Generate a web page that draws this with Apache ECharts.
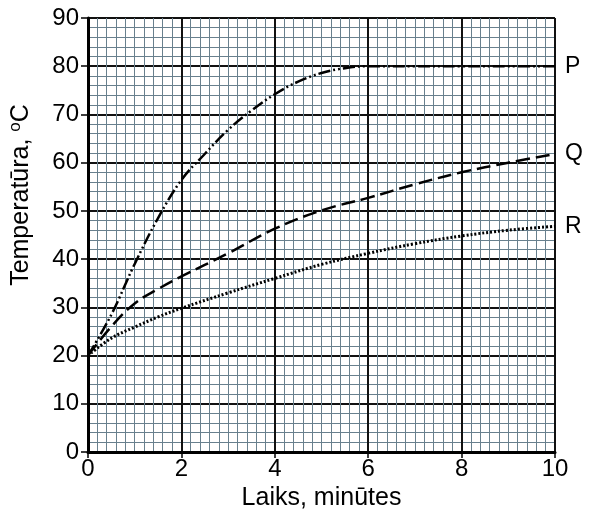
<!DOCTYPE html>
<html><head><meta charset="utf-8">
<script src="https://cdn.jsdelivr.net/npm/echarts@6/dist/echarts.min.js"></script>
<style>html,body{margin:0;padding:0;background:#fff}#c{width:590px;height:510px}</style>
</head><body><div id="c"></div>
<script>
const xP = [0, 0.5, 1, 1.5, 2, 2.5, 3, 3.5, 4, 4.5, 5, 5.5, 6, 7, 8, 9, 10];
const yP = [20, 28.5, 39, 48.5, 56.4, 61.8, 66.8, 70.8, 74.2, 76.8, 78.6, 79.6, 80, 80, 80, 80, 80];
const xQ = [0, 0.5, 1, 1.5, 2, 3, 4, 5, 6, 7, 8, 9, 10];
const yQ = [20, 26, 30.8, 33.8, 36.4, 41.2, 46.3, 50.1, 52.7, 55.5, 58, 60, 61.8];
const xR = [0, 0.5, 1, 1.5, 2, 3, 4, 5, 6, 7, 8, 9, 10];
const yR = [20, 23.6, 25.9, 28, 29.8, 33, 36, 38.9, 41.2, 43.2, 44.8, 46, 46.8];
const seriesNames = ['P', 'Q', 'R'];
const xTicks = [0, 2, 4, 6, 8, 10];
const yTicks = [0, 10, 20, 30, 40, 50, 60, 70, 80, 90];

const zip = (xs, ys) => xs.map((x, i) => [x, ys[i]]);
const font = 'Liberation Sans, Arial, sans-serif';
const chart = echarts.init(document.getElementById('c'), null, {renderer: 'canvas'});
const lbl = {show: true, fontFamily: font, fontSize: 23, color: '#000', distance: 10};
chart.setOption({
  animation: false,
  backgroundColor: '#fff',
  grid: {left: 88, right: 35, top: 18, bottom: 58, containLabel: false, outerBoundsMode: 'none'},
  xAxis: {
    type: 'value', min: xTicks[0], max: xTicks[xTicks.length - 1], interval: 2,
    name: 'Laiks, minūtes', nameLocation: 'middle', nameGap: 29,
    nameTextStyle: {fontFamily: font, fontSize: 25, color: '#000'},
    axisLine: {show: true, onZero: false, lineStyle: {color: '#000', width: 3}},
    axisTick: {show: true, length: 6, lineStyle: {color: '#000', width: 1.5}},
    axisLabel: {fontFamily: font, fontSize: 24, color: '#000', margin: 5},
    splitLine: {show: true, lineStyle: {color: '#111', width: 2}},
    minorTick: {show: false, splitNumber: 10},
    minorSplitLine: {show: true, lineStyle: {color: '#68808e', width: 1}}
  },
  yAxis: {
    type: 'value', min: yTicks[0], max: yTicks[yTicks.length - 1], interval: 10,
    name: 'Temperatūra, {sup|o}C', nameLocation: 'middle', nameGap: 52, nameRotate: 90,
    nameTextStyle: {fontFamily: font, fontSize: 25, color: '#000', padding: [0, 0, 0, 80],
      rich: {sup: {fontFamily: font, fontSize: 17, color: '#000', padding: [0, 0, 12, 0]}}},
    axisLine: {show: true, onZero: false, lineStyle: {color: '#000', width: 3}},
    axisTick: {show: true, length: 7, lineStyle: {color: '#000', width: 1.5}},
    axisLabel: {fontFamily: font, fontSize: 24, color: '#000', margin: 9},
    splitLine: {show: true, lineStyle: {color: '#111', width: 2}},
    minorTick: {show: false, splitNumber: 5},
    minorSplitLine: {show: true, lineStyle: {color: '#68808e', width: 1}}
  },
  series: [
    {name: seriesNames[0], type: 'line', smooth: 0.4, symbol: 'none', data: zip(xP, yP),
     lineStyle: {color: '#000', width: 2.5, type: [12, 3, 2, 3, 2, 3]},
     endLabel: Object.assign({formatter: seriesNames[0]}, lbl)},
    {name: seriesNames[1], type: 'line', smooth: 0.4, symbol: 'none', data: zip(xQ, yQ),
     lineStyle: {color: '#000', width: 2.5, type: [14, 6]},
     endLabel: Object.assign({formatter: seriesNames[1]}, lbl)},
    {name: seriesNames[2], type: 'line', smooth: 0.4, symbol: 'none', data: zip(xR, yR),
     lineStyle: {color: '#000', width: 3, type: [2, 2]},
     endLabel: Object.assign({formatter: seriesNames[2]}, lbl)}
  ]
});
</script></body></html>
